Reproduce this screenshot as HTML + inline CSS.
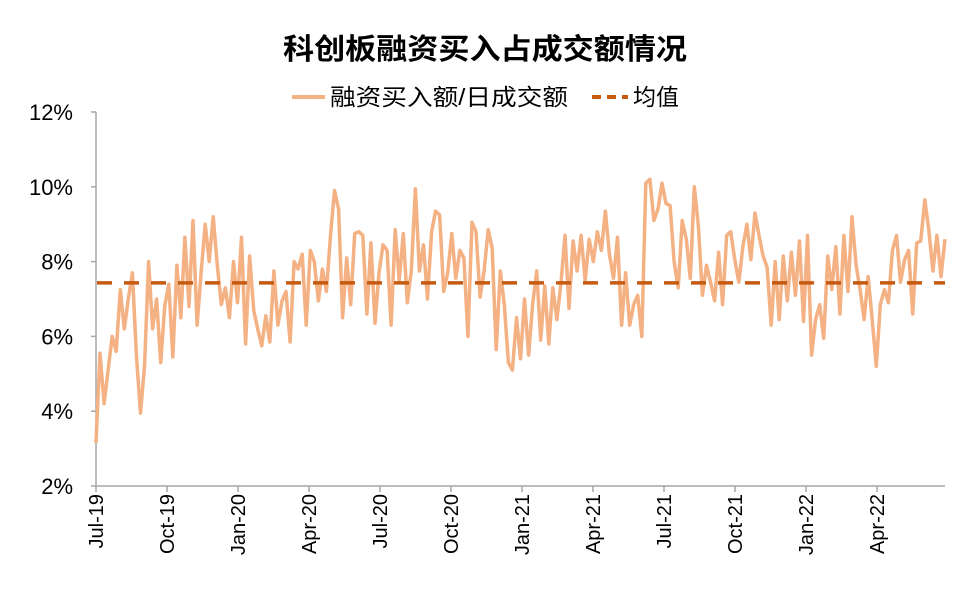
<!DOCTYPE html>
<html><head><meta charset="utf-8">
<style>
body{margin:0;background:#fff;}
svg text{font-family:"Liberation Sans","Noto Sans CJK SC",sans-serif;fill:#000;}
</style></head>
<body>
<svg id="chart" width="958" height="603" viewBox="0 0 958 603" xmlns="http://www.w3.org/2000/svg">
<text x="283" y="59" font-size="29" font-weight="bold" textLength="404" lengthAdjust="spacingAndGlyphs">科创板融资买入占成交额情况</text>
<g>
<line x1="292" y1="97" x2="325" y2="97" stroke="#F4B183" stroke-width="4"/>
<text x="330" y="105" font-size="23" textLength="238" lengthAdjust="spacingAndGlyphs">融资买入额/日成交额</text>
<line x1="592" y1="97" x2="628" y2="97" stroke="#C55A11" stroke-width="4" stroke-dasharray="9,6"/>
<text x="633" y="105" font-size="23">均值</text>
</g>
<g id="axes"></g>
<g id="marks"></g>
</svg>
<script>
const yTicks=[2,4,6,8,10,12];
const xLabels=["Jul-19","Oct-19","Jan-20","Apr-20","Jul-20","Oct-20","Jan-21","Apr-21","Jul-21","Oct-21","Jan-22","Apr-22"];
const meanValue=7.43;
const ratioValues=[3.15,5.55,4.2,5.1,6.0,5.6,7.25,6.2,7.0,7.7,5.5,3.95,5.2,8.0,6.2,7.0,5.3,6.8,7.4,5.45,7.9,6.5,8.65,6.8,9.1,6.3,7.7,9.0,8.0,9.2,7.9,6.85,7.3,6.5,8.0,6.9,8.65,5.8,8.15,6.7,6.2,5.75,6.55,5.85,7.75,6.3,6.95,7.2,5.85,8.0,7.8,8.2,6.3,8.3,8.0,6.95,7.8,7.2,8.7,9.9,9.4,6.5,8.1,6.85,8.75,
8.8,8.7,6.6,8.5,6.35,7.7,8.45,8.3,6.3,8.85,7.5,8.75,6.9,7.75,9.95,7.75,8.45,7.0,8.8,9.35,9.25,7.2,7.7,8.75,7.55,8.3,8.1,6.0,9.05,8.8,7.05,7.75,8.85,8.35,5.65,7.75,6.85,5.3,5.1,6.5,5.4,7.0,5.5,6.85,7.75,5.9,7.35,5.8,7.3,6.45,7.4,8.7,6.75,8.55,7.75,8.7,7.5,8.6,8.0,8.8,8.3,9.35,8.2,7.55,8.65,6.3,7.7,6.3,6.85,7.1,6.0,10.1,10.2,9.1,9.4,
10.1,9.55,9.5,8.0,7.3,9.1,8.6,7.55,10.0,8.95,7.1,7.9,7.45,6.95,8.25,6.85,8.7,8.8,8.05,7.45,8.4,9.0,8.05,9.3,8.7,8.15,7.85,6.3,8.0,6.45,8.15,6.95,8.25,7.1,8.55,6.4,8.7,5.5,6.45,6.85,5.95,8.15,7.25,8.4,6.6,8.7,7.2,9.2,7.9,7.25,6.45,7.6,6.45,5.2,6.85,7.25,6.9,8.3,8.7,7.45,8.05,8.3,6.6,8.5,8.55,9.65,8.85,7.75,8.7,7.6,8.6];

const NS="http://www.w3.org/2000/svg";
const X0=96,X1=945,Y0=486,Y1=112;
function yScale(v){return Y0-(v-2)/(12-2)*(Y0-Y1);}
function xIndex(i){return X0+i*(X1-X0)/(ratioValues.length-1);}
function xLabelPos(i){return X0+i*71;}
function mk(tag,attrs,parent){const e=document.createElementNS(NS,tag);for(const k in attrs)e.setAttribute(k,attrs[k]);parent.appendChild(e);return e;}
const axes=document.getElementById('axes'),marks=document.getElementById('marks');

const yAxis=mk('line',{x1:X0,y1:Y1,x2:X0,y2:Y0,stroke:'#A6A6A6','stroke-width':1.5},axes);


const xAxis=mk('line',{x1:X0,y1:Y0,x2:X1,y2:Y0,stroke:'#A6A6A6','stroke-width':1.5},axes);



yTicks.forEach(v=>{
  const y=yScale(v);
  const t=mk('line',{x1:X0-5,y1:y,x2:X0,y2:y,stroke:'#A6A6A6','stroke-width':1.5},axes);
  
  
  const l=mk('text',{x:73,y:y+8,'text-anchor':'end','font-size':22},axes);
  l.textContent=v+'%';
  
  
});
xLabels.forEach((s,i)=>{
  const x=xLabelPos(i);
  const t=mk('line',{x1:x,y1:Y0,x2:x,y2:Y0+6,stroke:'#A6A6A6','stroke-width':1.5},axes);
  
  
  const l=mk('text',{x:0,y:0,'text-anchor':'end','font-size':20,transform:`translate(${x+7},${Y0+8}) rotate(-90)`},axes);
  l.textContent=s;
  
  
});

const pts=ratioValues.map((v,i)=>xIndex(i).toFixed(1)+','+yScale(v).toFixed(1)).join(' ');
const line=mk('polyline',{points:pts,fill:'none',stroke:'#F4B183','stroke-width':3.5,'stroke-linejoin':'round'},marks);



const mean=mk('line',{x1:X0+1,y1:yScale(meanValue),x2:X1,y2:yScale(meanValue),stroke:'#C55A11','stroke-width':3.5,'stroke-dasharray':'15,12'},marks);


</script>
</body></html>
